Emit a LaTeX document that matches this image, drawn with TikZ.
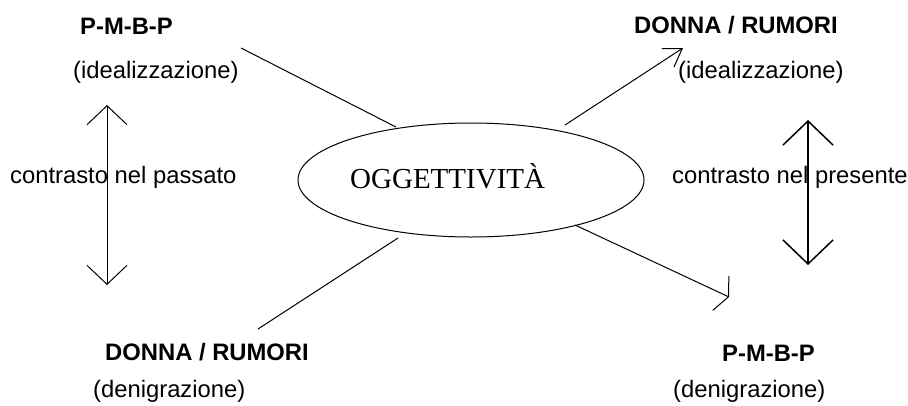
\documentclass[tikz,border=0pt]{standalone}
\usepackage{fontspec}
\setmainfont{Liberation Sans}
\newfontfamily\seriffont{Liberation Serif}
\usetikzlibrary{shapes.geometric,arrows.meta}
\begin{document}
\begin{tikzpicture}[x=1pt,y=-1pt,
  txt/.style={anchor=base west,inner sep=0pt,font=\fontsize{23.8}{28}\selectfont},
  btxt/.style={txt,font=\fontsize{23.8}{28}\selectfont\bfseries},
  conn/.style={line width=1pt},
  vdbl/.style={line width=1pt,{Straight Barb[length=19pt,width=40pt]}-{Straight Barb[length=19pt,width=40pt]}},
  vdblthick/.style={line width=1.5pt,{Straight Barb[length=24pt,width=50pt]}-{Straight Barb[length=24pt,width=50pt]}}]
\useasboundingbox (0,0) rectangle (908,405);
% central ellipse
\node[draw,ellipse,line width=1pt,minimum width=346pt,minimum height=114pt,inner sep=0pt] (ell) at (471,180) {};
\node[anchor=base west,inner sep=0pt,font=\seriffont\fontsize{29}{34}\selectfont] (ogg) at (350,188) {OGGETTIVITÀ};
% texts
\node[btxt] (tlt) at (80,34) {P-M-B-P};
\node[txt] (tls) at (73,78) {(idealizzazione)};
\node[btxt] (trt) at (634,33) {DONNA / RUMORI};
\node[txt] (trs) at (678,78) {(idealizzazione)};
\node[txt] (cl) at (10,183) {contrasto nel passato};
\node[txt] (cr) at (672,183) {contrasto nel presente};
\node[btxt] (blt) at (105,360) {DONNA / RUMORI};
\node[txt] (bls) at (93,397) {(denigrazione)};
\node[btxt] (brt) at (722,361) {P-M-B-P};
\node[txt] (brs) at (673,397) {(denigrazione)};
% connector end points
\coordinate (tl1) at (241,48);
\coordinate (tl2) at (396,127);
\coordinate (tr1) at (565,125);
\coordinate (tr2) at (683,48);
\coordinate (bl1) at (258,329);
\coordinate (bl2) at (398,238);
\coordinate (br1) at (575,225);
\coordinate (br2) at (729,297);
\coordinate (lv1) at (107,105);
\coordinate (lv2) at (107,285);
\coordinate (rv1) at (808,120);
\coordinate (rv2) at (808,265);
% connectors
\draw[conn] (tl1) -- (tl2);
\draw[conn,-{Straight Barb[length=17pt,width=22pt]}] (tr1) -- (tr2);
\draw[conn] (bl1) -- (bl2);
\draw[conn,-{Straight Barb[length=8.5pt,width=38pt]}] (br1) -- (br2);
\draw[vdbl] (lv1) -- (lv2);
\draw[vdblthick] (rv1) -- (rv2);
\end{tikzpicture}
\end{document}
